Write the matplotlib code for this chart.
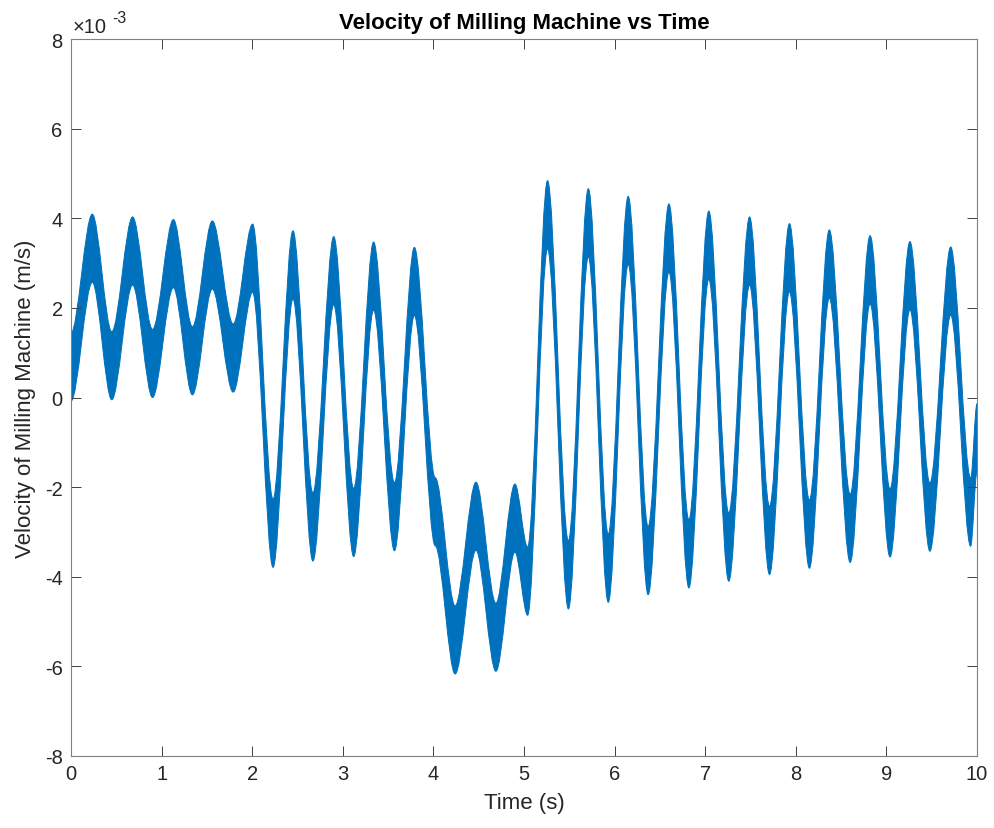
# velocity of milling machine vs time, matlab style look
import matplotlib
matplotlib.use('Agg')
import matplotlib.pyplot as plt
from matplotlib.path import Path
from matplotlib.patches import PathPatch
import numpy as np

plt.rcParams['font.family'] = ['Liberation Sans', 'DejaVu Sans']
plt.rcParams['axes.unicode_minus'] = False

# turning points of the slow component (x 1e-3 m/s)
time_s = [
    0.000, 0.235, 0.450, 0.680, 0.900, 1.130, 1.340, 1.560, 1.790, 2.005,
    2.230, 2.450, 2.670, 2.900, 3.120, 3.340, 3.570, 3.790, 4.020, 4.240,
    4.470, 4.690, 4.900, 5.040, 5.260, 5.490, 5.710, 5.930, 6.150, 6.370,
    6.600, 6.820, 7.040, 7.260, 7.490, 7.710, 7.930, 8.150, 8.370, 8.600,
    8.820, 9.040, 9.260, 9.480, 9.710, 9.930, 10.000,
]
vel_slow = [
    0.68, 3.33, 0.71, 3.27, 0.76, 3.21, 0.82, 3.18, 0.88, 3.11,
    -3.03, 2.96, -2.89, 2.83, -2.79, 2.71, -2.66, 2.59, -2.55, -5.41,
    -2.65, -5.35, -2.69, -4.10, 4.08, -3.96, 3.90, -3.81, 3.73, -3.64,
    3.56, -3.49, 3.40, -3.34, 3.27, -3.19, 3.12, -3.05, 2.98, -2.92,
    2.85, -2.80, 2.72, -2.67, 2.60, -2.56, -0.90,
]
# amplitude of the fast (tooth) oscillation riding on top, x 1e-3 m/s
fast_amp = 0.76

t = np.array(time_s)
v = np.array(vel_slow) * 1e-3
a = fast_amp * 1e-3


def smooth_edge(tt, yy):
    # cubic bezier pieces with flat tangents at each turning point
    verts = [(tt[0], yy[0])]
    for i in range(len(tt) - 1):
        dt = tt[i + 1] - tt[i]
        verts += [(tt[i] + dt / 3, yy[i]), (tt[i + 1] - dt / 3, yy[i + 1]),
                  (tt[i + 1], yy[i + 1])]
    return verts


upper = smooth_edge(t, v + a)
lower = smooth_edge(t[::-1], (v - a)[::-1])
verts = upper + lower + [upper[0]]
codes = ([Path.MOVETO] + [Path.CURVE4] * (len(upper) - 1) + [Path.LINETO]
         + [Path.CURVE4] * (len(lower) - 1) + [Path.CLOSEPOLY])

fig = plt.figure(figsize=(9.94, 8.29), dpi=100)
ax = fig.add_axes([71/994, 1-757/829, 906/994, 717/829])

blue = '#0072BD'
ax.add_patch(PathPatch(Path(verts, codes), facecolor=blue, edgecolor=blue,
                       linewidth=0.7))

ax.set_xlim(0, 10)
ax.set_ylim(-8e-3, 8e-3)
ax.set_xticks(np.arange(0, 11, 1))
ax.set_yticks(np.arange(-8, 9, 2) * 1e-3)
ax.set_yticklabels([str(k) for k in range(-8, 9, 2)])

gray = '#262626'
for s in ax.spines.values():
    s.set_color('#808080')
    s.set_linewidth(0.8)
ax.tick_params(direction='in', length=7, width=0.7, colors='#404040',
               labelcolor=gray, labelsize=14.5, top=True, right=True, pad=6)

ax.set_title('Velocity of Milling Machine vs Time', fontsize=16,
             fontweight='bold', pad=8)
ax.set_xlabel('Time (s)', fontsize=16, color=gray, labelpad=6)
ax.set_ylabel('Velocity of Milling Machine (m/s)', fontsize=16, color=gray,
              labelpad=6)

ax.annotate('\u00d710', xy=(0, 1), xycoords='axes fraction', xytext=(1, 2),
            textcoords='offset points', fontsize=14.5, color=gray, va='bottom')
ax.annotate('-3', xy=(0, 1), xycoords='axes fraction', xytext=(29.5, 10),
            textcoords='offset points', fontsize=11.5, color=gray, va='bottom')

fig.savefig('out.png', dpi=100)
